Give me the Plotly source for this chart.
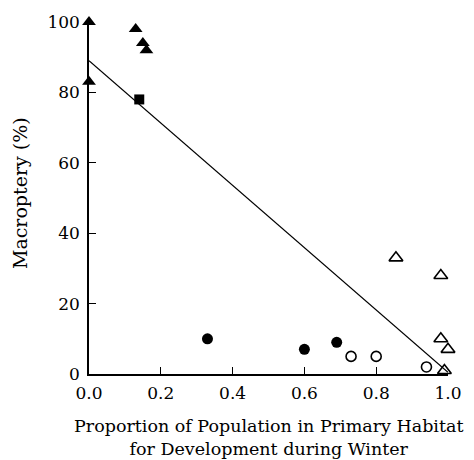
import plotly.graph_objects as go

# data
filled_tri_x = [0.0, 0.0, 0.13, 0.15, 0.16]
filled_tri_y = [100, 83, 98, 94, 92]
square_x = [0.14]
square_y = [78]
filled_circ_x = [0.33, 0.60, 0.69]
filled_circ_y = [10, 7, 9]
open_circ_x = [0.73, 0.80, 0.94]
open_circ_y = [5, 5, 2]
open_tri_x = [0.855, 0.98, 0.98, 1.0, 0.99]
open_tri_y = [33, 28, 10, 7, 1]
fit_x = [0.0, 1.0]
fit_y = [89, 0.5]
x_ticks = [0.0, 0.2, 0.4, 0.6, 0.8, 1.0]
x_tick_labels = ["0.0", "0.2", "0.4", "0.6", "0.8", "1.0"]
y_ticks = [0, 20, 40, 60, 80, 100]

font = "DejaVu Serif"
fig = go.Figure()
fig.add_trace(go.Scatter(x=fit_x, y=fit_y, mode="lines",
                         line=dict(color="black", width=1.2), cliponaxis=False))
fig.add_trace(go.Scatter(x=filled_tri_x, y=filled_tri_y, mode="markers",
                         marker=dict(symbol="triangle-up", size=12, color="black"),
                         cliponaxis=False))
fig.add_trace(go.Scatter(x=square_x, y=square_y, mode="markers",
                         marker=dict(symbol="square", size=10, color="black"),
                         cliponaxis=False))
fig.add_trace(go.Scatter(x=filled_circ_x, y=filled_circ_y, mode="markers",
                         marker=dict(symbol="circle", size=11, color="black"),
                         cliponaxis=False))
fig.add_trace(go.Scatter(x=open_circ_x, y=open_circ_y, mode="markers",
                         marker=dict(symbol="circle-open", size=10, color="black",
                                     line=dict(width=1.6)),
                         cliponaxis=False))
fig.add_trace(go.Scatter(x=open_tri_x, y=open_tri_y, mode="markers",
                         marker=dict(symbol="triangle-up-open", size=12, color="black",
                                     line=dict(width=1.6)),
                         cliponaxis=False))

fig.update_layout(
    width=474, height=460, showlegend=False,
    paper_bgcolor="white", plot_bgcolor="white",
    margin=dict(l=89, r=25, t=17, b=86),
    font=dict(family=font, size=17, color="black"),
    xaxis=dict(range=[0, 1.0], tickvals=x_ticks, ticktext=x_tick_labels,
               ticks="inside", ticklen=7, tickwidth=1.3, tickcolor="black",
               showline=True, linecolor="black", linewidth=1.5,
               showgrid=False, zeroline=False, ticklabelstandoff=3,
               tickfont=dict(family=font, size=17)),
    yaxis=dict(range=[0, 100], tickvals=y_ticks,
               ticks="inside", ticklen=7, tickwidth=1.3, tickcolor="black",
               showline=True, linecolor="black", linewidth=1.5,
               showgrid=False, zeroline=False, ticklabelstandoff=4,
               tickfont=dict(family=font, size=17)),
    annotations=[
        dict(text="Proportion of Population in Primary Habitat<br>for Development during Winter",
             xref="paper", yref="paper", x=0.5, y=-0.115, xanchor="center", yanchor="top",
             showarrow=False, font=dict(family=font, size=17.5)),
        dict(text="Macroptery (%)", textangle=-90,
             xref="paper", yref="paper", x=-0.194, y=0.515, xanchor="center", yanchor="middle",
             showarrow=False, font=dict(family=font, size=19)),
    ],
)
fig.write_html("out.html")
